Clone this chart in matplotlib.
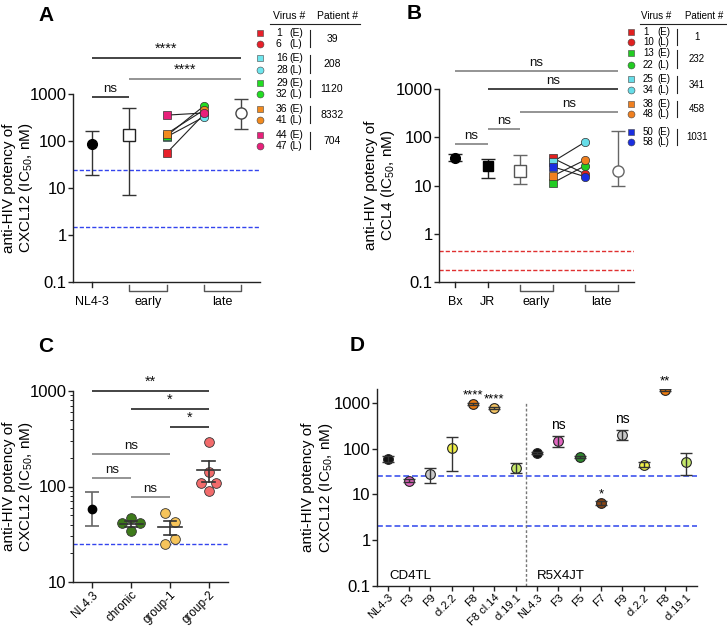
import matplotlib
matplotlib.use('Agg')
import numpy as np
import matplotlib.pyplot as plt
import matplotlib.transforms as mtransforms
from matplotlib.ticker import NullLocator

plt.rcParams['font.family'] = ['Liberation Sans', 'DejaVu Sans']
plt.rcParams['mathtext.fontset'] = 'custom'
plt.rcParams['mathtext.rm'] = 'Liberation Sans'
plt.rcParams['mathtext.it'] = 'Liberation Sans:italic'
plt.rcParams['mathtext.bf'] = 'Liberation Sans:bold'

# ---------------- data ----------------
# Panel A (CXCL12)
a_tick_labels = ['NL4-3', 'early', 'late']
a_nl43 = 88
a_nl43_err = [19, 165]
a_early_mean = 135
a_early_err = [7, 500]
a_late_mean = 400
a_late_err = [180, 800]
a_virus_e = ['1', '16', '29', '36', '44']
a_virus_l = ['6', '28', '32', '41', '47']
a_patient = ['39', '208', '1120', '8332', '704']
a_colors = ['#e8202a', '#6ee6ee', '#22dd22', '#f28a1e', '#e8207a']
a_early = [55, 122, 128, 142, 355]
a_late = [370, 325, 555, 455, 395]
# (x1, x2, label, y, colour)
a_sig = [(1, 5, '****', 5900, '#111111'), (2, 5, '****', 2090, '#777777'),
         (1, 2, 'ns', 870, '#111111')]

# Panel B (CCL4)
b_tick_labels = ['Bx', 'JR', 'early', 'late']
b_bx = 37
b_bx_err = [32, 46]
b_jr = 25
b_jr_err = [14, 35]
b_early_mean = 20
b_early_err = [11, 43]
b_late_mean = 20
b_late_err = [10, 135]
b_virus_e = ['1', '13', '25', '38', '50']
b_virus_l = ['10', '22', '34', '48', '58']
b_patient = ['1', '232', '341', '458', '1031']
b_colors = ['#e02020', '#22cc22', '#66dde8', '#f08020', '#1a2ee0']
b_early = [37, 11.3, 31, 15.7, 24.5]
b_late = [17.3, 25.8, 80, 34, 15.2]
b_sig = [(1, 6, 'ns', 2360, '#777777'), (2, 6, 'ns', 1000, '#111111'),
         (3, 6, 'ns', 333, '#777777'), (2, 3, 'ns', 148, '#777777'),
         (1, 2, 'ns', 73, '#777777')]

# Panel C
c_labels = ['NL4.3', 'chronic', 'group-1', 'group-2']
c_nl43 = 58
c_nl43_err = [39, 87]
c_chronic = [47, 41, 41, 34]
c_chronic_dx = [0, -0.24, 0.24, 0]
c_group1 = [53, 43, 28, 25]
c_group1_dx = [-0.13, 0.13, 0.13, -0.13]
c_group2 = [295, 142, 110, 110, 90]
c_group2_dx = [0, 0, -0.2, 0.2, 0]
c_sig = [(1, 4, '**', 1000, '#111111'), (2, 4, '*', 650, '#111111'),
         (3, 4, '*', 420, '#111111'), (1, 3, 'ns', 219, '#777777'),
         (1, 2, 'ns', 123, '#777777'), (2, 3, 'ns', 78, '#777777')]

# Panel D
d_labels = ['NL4-3', 'F3', 'F9', 'cl.2.2', 'F8', 'F8 cl.14', 'cl.19.1',
            'NL4.3', 'F3', 'F5', 'F7', 'F9', 'cl.2.2', 'F8', 'cl.19.1']
d_vals = [60, 20, 28, 104, 950, 780, 38, 81, 148, 66, 6.5, 200, 44, 1900, 52]
d_lo = [51, 19, 18, 33, 900, 740, 30, 78, 110, 63, 6.0, 155, 39, 1800, 27]
d_hi = [70, 21.5, 38, 180, 1000, 820, 49, 85, 190, 69, 7.0, 257, 50, 2000, 80]
d_colors = ['#111111', '#e066c0', '#c8c8c8', '#f0f048', '#e8780e', '#f5c462',
            '#c5e86a', '#111111', '#e066c0', '#2e8b2e', '#8b4513', '#c8c8c8',
            '#f0f048', '#f07d10', '#c5e86a']
d_sig = ['', '', '', '', '****', '****', '', '', 'ns', '', '*', 'ns', '', '**', '']

# ---------------- figure ----------------
W, H = 727, 629
fig = plt.figure(figsize=(7.27, 6.29), dpi=100)

ov = fig.add_axes([0, 0, 1, 1], zorder=-1)
ov.set_xlim(0, W)
ov.set_ylim(H, 0)
ov.axis('off')


def add_ax(l, t, r, b):
    return fig.add_axes([l / W, 1 - b / H, (r - l) / W, (b - t) / H])


def style_log(ax, ylo, yhi, ticks, labels, minor=False):
    ax.set_yscale('log')
    ax.set_ylim(ylo, yhi)
    ax.set_yticks(ticks)
    ax.set_yticklabels(labels)
    if not minor:
        ax.yaxis.set_minor_locator(NullLocator())
    for s in ['top', 'right']:
        ax.spines[s].set_visible(False)
    for s in ['left', 'bottom']:
        ax.spines[s].set_linewidth(1.0)
        ax.spines[s].set_color('#222222')
    ax.tick_params(axis='y', which='major', length=3.6, width=1, labelsize=12,
                   pad=1, color='#222222')
    ax.tick_params(axis='y', which='minor', length=2, width=0.7, color='#222222')
    ax.patch.set_alpha(0)


def sig(ax, x1, x2, y, txt, color):
    fs = 10.5 if '*' in txt else 9.5
    ax.plot([x1, x2], [y, y], color=color, lw=1.1, clip_on=False,
            solid_capstyle='butt')
    ax.annotate(txt, xy=((x1 + x2) / 2, y), xytext=(0, 1.5),
                textcoords='offset points', ha='center', va='bottom',
                fontsize=fs, annotation_clip=False, color='#111111')


def brackets(ax, hpx, singles, groups):
    tr = mtransforms.blended_transform_factory(ax.transData, ax.transAxes)
    t = 5 / hpx
    d = 9 / hpx
    for x in singles:
        ax.plot([x, x], [0, -t], transform=tr, color='#222222', lw=1, clip_on=False)
    for x1, x2 in groups:
        ax.plot([x1, x1, x2, x2], [-t * 0.6, -d, -d, -t * 0.6], transform=tr,
                color='#555555', lw=1, clip_on=False)


def table(xm, xn, xp, xs, xpat, hx_v, hx_p, ul, yE, yL, vE, vL, pats, cols, fs):
    ov.text(hx_v, 16, 'Virus #', fontsize=fs, va='center', ha='left')
    ov.text(hx_p, 16, 'Patient #', fontsize=fs, va='center', ha='left')
    ov.plot([ul[0], ul[1]], [24, 24], color='#222222', lw=0.8)
    for e, l, ve, vl, p, c in zip(yE, yL, vE, vL, pats, cols):
        ov.plot([xm], [e], marker='s', ms=5, mfc=c, mec='#444444', mew=0.4, ls='none')
        ov.plot([xm], [l], marker='o', ms=5, mfc=c, mec='#444444', mew=0.4, ls='none')
        ov.text(xn, e, ve, fontsize=fs, va='center', ha='left')
        ov.text(xp, e, '(E)', fontsize=fs, va='center', ha='left')
        ov.text(xn, l, vl, fontsize=fs, va='center', ha='left')
        ov.text(xp, l, '(L)', fontsize=fs, va='center', ha='left')
        ov.plot([xs, xs], [e - 3, l + 3], color='#222222', lw=0.8)
        ov.text(xpat, (e + l) / 2, p, fontsize=fs, va='center', ha='center')


ylab = 'anti-HIV potency of\n{} (IC$_{{50}}$, nM)'
log_ticks = [0.1, 1, 10, 100, 1000]
log_labels = ['0.1', '1', '10', '100', '1000']

# ---------------- Panel A ----------------
axA = add_ax(73, 94, 260, 282)
style_log(axA, 0.1, 1000, log_ticks, log_labels)
axA.set_xlim(0.5, 5.5)
axA.set_xticks([1, 2.5, 4.5])
axA.set_xticklabels(a_tick_labels, fontsize=9)
axA.tick_params(axis='x', length=0, pad=10)
brackets(axA, 188, [1], [(2, 3), (4, 5)])
for yv in [24, 1.5]:
    axA.axhline(yv, color='#3344ee', lw=1, ls=(0, (3, 1.5)))
axA.errorbar([1], [a_nl43], yerr=[[a_nl43 - a_nl43_err[0]], [a_nl43_err[1] - a_nl43]],
             fmt='o', ms=7, mfc='black', mec='black', ecolor='#333333',
             elinewidth=1, capsize=5, capthick=1)
axA.errorbar([2], [a_early_mean], yerr=[[a_early_mean - a_early_err[0]], [a_early_err[1] - a_early_mean]],
             fmt='s', ms=8, mfc='white', mec='#222222', mew=1, ecolor='#333333',
             elinewidth=1, capsize=5, capthick=1)
axA.errorbar([5], [a_late_mean], yerr=[[a_late_mean - a_late_err[0]], [a_late_err[1] - a_late_mean]],
             fmt='o', ms=8, mfc='white', mec='#444444', mew=1, ecolor='#444444',
             elinewidth=1, capsize=5, capthick=1)
for e, l in zip(a_early, a_late):
    axA.plot([3, 4], [e, l], color='#222222', lw=0.8, zorder=2)
for e, l, c in zip(a_early, a_late, a_colors):
    axA.plot([3], [e], marker='s', ms=6, mfc=c, mec='#333333', mew=0.5, zorder=3, ls='none')
    axA.plot([4], [l], marker='o', ms=6, mfc=c, mec='#333333', mew=0.5, zorder=3, ls='none')
for x1, x2, t, y, c in a_sig:
    sig(axA, x1, x2, y, t, c)
axA.set_ylabel(ylab.format('CXCL12'), fontsize=11, va='center', linespacing=1.1)
axA.yaxis.set_label_coords(-0.29, 0.5)

table(260, 276, 289, 310, 332, 273, 317, (270, 360),
      [33, 58, 83, 109, 135], [44, 70, 94, 120, 146],
      a_virus_e, a_virus_l, a_patient, a_colors, 7.5)

# ---------------- Panel B ----------------
axB = add_ax(439, 89, 634, 282)
style_log(axB, 0.1, 1000, log_ticks, log_labels)
axB.set_xlim(0.5, 6.5)
axB.set_xticks([1, 2, 3.5, 5.5])
axB.set_xticklabels(b_tick_labels, fontsize=9)
axB.tick_params(axis='x', length=0, pad=10)
brackets(axB, 193, [1, 2], [(3, 4), (5, 6)])
for yv in [0.43, 0.18]:
    axB.axhline(yv, color='#e03030', lw=1, ls=(0, (3, 1.5)))
axB.errorbar([1], [b_bx], yerr=[[b_bx - b_bx_err[0]], [b_bx_err[1] - b_bx]],
             fmt='o', ms=7, mfc='black', mec='black', ecolor='#222222',
             elinewidth=1, capsize=5, capthick=1)
axB.errorbar([2], [b_jr], yerr=[[b_jr - b_jr_err[0]], [b_jr_err[1] - b_jr]],
             fmt='s', ms=7, mfc='black', mec='black', ecolor='#222222',
             elinewidth=1, capsize=5, capthick=1)
axB.errorbar([3], [b_early_mean], yerr=[[b_early_mean - b_early_err[0]], [b_early_err[1] - b_early_mean]],
             fmt='s', ms=8, mfc='white', mec='#555555', mew=1, ecolor='#666666',
             elinewidth=1, capsize=5, capthick=1)
axB.errorbar([6], [b_late_mean], yerr=[[b_late_mean - b_late_err[0]], [b_late_err[1] - b_late_mean]],
             fmt='o', ms=8, mfc='white', mec='#666666', mew=1, ecolor='#666666',
             elinewidth=1, capsize=5, capthick=1)
for e, l in zip(b_early, b_late):
    axB.plot([4, 5], [e, l], color='#222222', lw=0.8, zorder=2)
for e, l, c in zip(b_early, b_late, b_colors):
    axB.plot([4], [e], marker='s', ms=6, mfc=c, mec='#333333', mew=0.5, zorder=3, ls='none')
    axB.plot([5], [l], marker='o', ms=6, mfc=c, mec='#333333', mew=0.5, zorder=3, ls='none')
for x1, x2, t, y, c in b_sig:
    sig(axB, x1, x2, y, t, c)
axB.set_ylabel(ylab.format('CCL4'), fontsize=11, va='center', linespacing=1.1)
axB.yaxis.set_label_coords(-0.30, 0.5)

table(631, 643, 657, 677, 697, 641, 685, (640, 727),
      [32, 53, 79, 104, 132], [42, 65, 90, 114, 142],
      b_virus_e, b_virus_l, b_patient, b_colors, 7)

# ---------------- Panel C ----------------
axC = add_ax(73, 391, 228, 582)
style_log(axC, 10, 1000, [10, 100, 1000], ['10', '100', '1000'], minor=True)
axC.set_xlim(0.5, 4.5)
axC.set_xticks([1, 2, 3, 4])
axC.set_xticklabels(c_labels, fontsize=8.5, rotation=45, ha='right',
                    rotation_mode='anchor')
axC.tick_params(axis='x', length=4, width=1, pad=1, color='#222222')
axC.axhline(25, color='#3344ee', lw=1, ls=(0, (3, 1.5)))
axC.errorbar([1], [c_nl43], yerr=[[c_nl43 - c_nl43_err[0]], [c_nl43_err[1] - c_nl43]],
             fmt='o', ms=6, mfc='black', mec='black', ecolor='#666666',
             elinewidth=1.2, capsize=5, capthick=1.2)
for xi, vals, dxs, col in [(2, c_chronic, c_chronic_dx, '#3d7a1a'),
                           (3, c_group1, c_group1_dx, '#f6c45a'),
                           (4, c_group2, c_group2_dx, '#f26b6b')]:
    v = np.array(vals, dtype=float)
    axC.plot(xi + np.array(dxs), v, 'o', ms=7, mfc=col, mec='#333333', mew=0.6,
             zorder=3)
    m = v.mean()
    s = v.std(ddof=1) / np.sqrt(len(v))
    axC.plot([xi - 0.3, xi + 0.3], [m, m], color='#333333', lw=1.2, zorder=4)
    axC.plot([xi, xi], [m - s, m + s], color='#333333', lw=1.2, zorder=4)
    for yy in [m - s, m + s]:
        axC.plot([xi - 0.16, xi + 0.16], [yy, yy], color='#333333', lw=1.2, zorder=4)
for x1, x2, t, y, c in c_sig:
    sig(axC, x1, x2, y, t, c)
axC.set_ylabel(ylab.format('CXCL12'), fontsize=11, va='center', linespacing=1.1)
axC.yaxis.set_label_coords(-0.35, 0.5)

# ---------------- Panel D ----------------
axD = add_ax(377, 389, 697, 586)
style_log(axD, 0.1, 2000, log_ticks, log_labels)
axD.set_xlim(0.5, 15.5)
xs = np.arange(1, len(d_labels) + 1)
axD.set_xticks(xs)
axD.set_xticklabels(d_labels, fontsize=8, rotation=45, ha='right',
                    rotation_mode='anchor')
axD.tick_params(axis='x', length=3.5, width=1, pad=1, color='#222222')
for yv in [25, 2]:
    axD.axhline(yv, color='#5a6cf0', lw=1.4, ls=(0, (3, 1.5)))
axD.plot([7.5, 7.5], [0.1, 1000], color='#777777', lw=1, ls=(0, (2, 1.5)))
for x, v, lo, hi, c, s in zip(xs, d_vals, d_lo, d_hi, d_colors, d_sig):
    axD.plot([x], [v], 'o', ms=7, mfc=c, mec='#222222', mew=0.8, zorder=3)
    axD.errorbar([x], [v], yerr=[[v - lo], [hi - v]], fmt='none', ecolor='#333333',
                 elinewidth=1, capsize=4, capthick=1, zorder=4)
    if s:
        axD.annotate(s, xy=(x, hi), xytext=(0, 3 if s == 'ns' else 1),
                     textcoords='offset points', ha='center', va='bottom',
                     fontsize=10 if s == 'ns' else 9.5, annotation_clip=False)
axD.text(1.1, 0.165, 'CD4TL', fontsize=9.5, va='center', ha='left')
axD.text(8.0, 0.165, 'R5X4JT', fontsize=9.5, va='center', ha='left')
axD.set_ylabel(ylab.format('CXCL12'), fontsize=11, va='center', linespacing=1.1)
axD.yaxis.set_label_coords(-0.184, 0.5)

# ---------------- panel letters ----------------
for x, y, t in [(38, 6, 'A'), (407, 4, 'B'), (38, 337, 'C'), (350, 336, 'D')]:
    ov.text(x, y, t, fontsize=15, fontweight='bold', va='top', ha='left')

fig.savefig('out.png', dpi=100)
